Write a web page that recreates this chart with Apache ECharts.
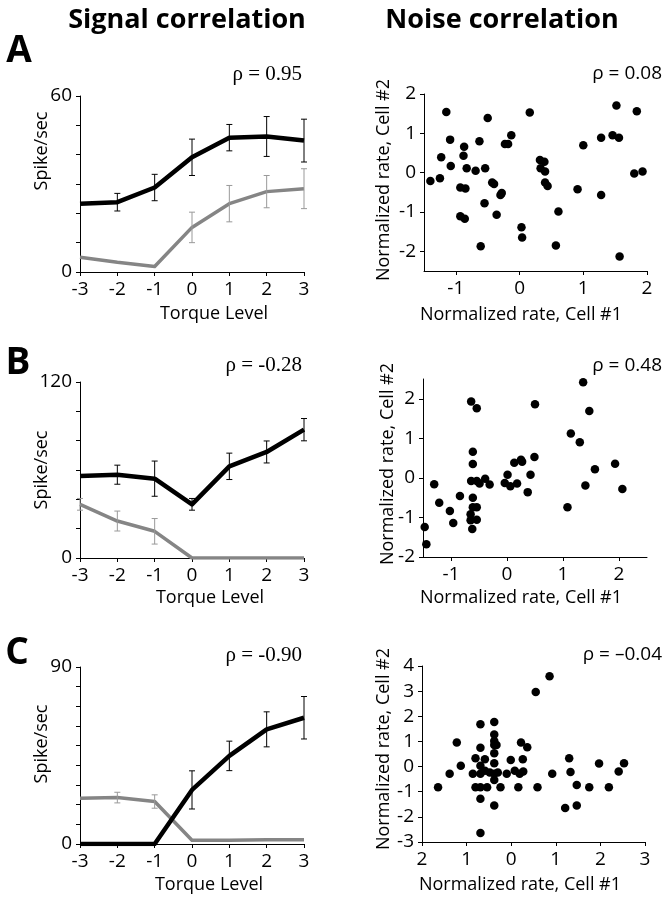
<!DOCTYPE html>
<html><head><meta charset="utf-8">
<script src="https://cdn.jsdelivr.net/npm/echarts@6/dist/echarts.min.js"></script>
<style>html,body{margin:0;padding:0;background:#fff}#c{width:668px;height:899px}</style>
</head><body><div id="c"></div>
<script>
// ---------- data ----------
const torqueLevels = [-3, -2, -1, 0, 1, 2, 3];

const aBlack    = [23.3, 23.8, 28.8, 39.1, 45.8, 46.2, 44.8];
const aBlackErr = [0, 3.0, 4.5, 6.2, 4.5, 6.8, 7.3];
const aGray     = [5.0, 3.3, 1.9, 15.2, 23.3, 27.4, 28.4];
const aGrayErr  = [0, 0, 0, 5.2, 6.2, 5.5, 6.8];

const bBlack    = [55.9, 56.8, 54.1, 36.6, 62.5, 72.3, 87.5];
const bBlackErr = [0, 6.5, 12, 4, 9, 7.5, 7.6];
const bGray     = [36.6, 25.2, 18.2, 0, 0, 0, 0];
const bGrayErr  = [4, 6.8, 8.7, 0, 0, 0, 0];

const cBlack    = [0, 0, 0, 27.5, 44.8, 58.3, 64.2];
const cBlackErr = [0, 0, 0, 9.7, 7.5, 8.9, 10.8];
const cGray     = [23.3, 23.6, 21.6, 1.9, 1.9, 2.2, 2.2];
const cGrayErr  = [0, 2.7, 3.4, 0, 0, 0, 0];

const noiseA = [[-1.40,-0.21],[-1.25,-0.14],[-1.23,0.39],[-1.15,1.54],[-1.09,0.84],[-1.08,0.17],[-0.93,-0.38],[-0.93,-1.11],[-0.87,0.66],[-0.88,0.43],[-0.85,-0.40],[-0.86,-1.17],[-0.83,0.11],[-0.69,0.05],[-0.63,0.80],[-0.61,-1.87],[-0.54,0.11],[-0.50,1.39],[-0.55,-0.78],[-0.43,-0.25],[-0.40,-0.29],[-0.36,-1.07],[-0.30,-0.57],[-0.28,-0.52],[-0.23,0.73],[-0.18,0.73],[-0.13,0.95],[0.03,-1.39],[0.04,-1.65],[0.16,1.53],[0.32,0.32],[0.39,0.28],[0.33,0.11],[0.40,0.03],[0.40,-0.25],[0.44,-0.34],[0.57,-1.85],[0.61,-0.99],[0.91,-0.42],[1.00,0.70],[1.28,0.89],[1.28,-0.57],[1.46,0.95],[1.52,1.71],[1.56,0.89],[1.57,-2.13],[1.80,-0.02],[1.84,1.56],[1.93,0.03]];

const noiseB = [[-1.47,-1.24],[-1.44,-1.68],[-1.30,-0.16],[-1.21,-0.63],[-1.02,-0.84],[-0.96,-1.14],[-0.84,-0.46],[-0.64,1.93],[-0.54,1.76],[-0.61,0.66],[-0.61,0.35],[-0.64,-0.08],[-0.61,-0.50],[-0.61,-0.74],[-0.54,-0.74],[-0.65,-0.92],[-0.65,-1.07],[-0.54,-1.06],[-0.62,-1.29],[-0.54,-0.08],[-0.49,-0.14],[-0.39,-0.02],[-0.31,-0.17],[-0.04,-0.13],[0.01,0.08],[0.06,-0.21],[0.13,0.38],[0.18,-0.14],[0.25,0.46],[0.27,0.41],[0.37,-0.36],[0.42,0.08],[0.49,0.53],[0.50,1.86],[1.08,-0.74],[1.14,1.12],[1.30,0.90],[1.36,2.42],[1.40,-0.19],[1.47,1.69],[1.57,0.22],[1.93,0.36],[2.06,-0.28]];

const noiseC = [[-1.64,-0.82],[-1.38,-0.29],[-1.22,0.96],[-1.13,0.03],[-0.86,-0.29],[-0.80,0.33],[-0.80,-0.82],[-0.69,1.68],[-0.69,0.75],[-0.69,0.03],[-0.69,-0.29],[-0.69,-0.82],[-0.69,-1.28],[-0.69,-2.64],[-0.59,0.29],[-0.59,-0.17],[-0.54,-0.82],[-0.48,-0.24],[-0.38,1.77],[-0.38,1.28],[-0.38,1.02],[-0.38,0.86],[-0.33,0.86],[-0.38,0.53],[-0.38,0.13],[-0.38,-0.29],[-0.38,-0.53],[-0.38,-1.55],[-0.30,-0.24],[-0.24,-0.82],[-0.10,-0.29],[-0.01,0.26],[0.08,-0.17],[0.16,-0.82],[0.19,-0.29],[0.22,0.96],[0.26,0.29],[0.27,-0.20],[0.36,0.77],[0.55,2.97],[0.59,-0.82],[0.86,3.59],[0.92,-0.29],[1.21,-1.65],[1.30,0.33],[1.33,-0.22],[1.47,-1.55],[1.47,-0.73],[1.75,-0.82],[1.97,0.12],[2.19,-0.82],[2.41,-0.20],[2.53,0.13]];

const noiseCXTickLabels = ['2', '1', '0', '1', '2', '3'];
const noiseCXTicks = [-2, -1, 0, 1, 2, 3];

// ---------- chart ----------
const SANS = '"Open Sans", "Noto Sans", sans-serif';
const SERIF = '"Liberation Serif", serif';
const chart = echarts.init(document.getElementById('c'), null, {renderer: 'canvas'});

const gridsPx = [
  {left: 80, top: 96, width: 224, height: 176},
  {left: 80, top: 382, width: 224, height: 176},
  {left: 80, top: 667, width: 224, height: 177},
  {left: 424, top: 94, width: 223, height: 177},
  {left: 423, top: 379, width: 224, height: 178},
  {left: 422, top: 666, width: 223, height: 176}
];

const axisLineStyle = {show: true, onZero: false, lineStyle: {color: '#000', width: 1}};
const tickStyle = {show: true, length: 4, lineStyle: {color: '#000', width: 1}};
const lblX = {color: '#000', fontFamily: SANS, fontSize: 19, margin: 8};
const lblY = {color: '#000', fontFamily: SANS, fontSize: 19, margin: 8};

function signalX(i) {
  return {gridIndex: i, type: 'value', min: -3, max: 3, interval: 1,
    axisLine: axisLineStyle, axisTick: tickStyle, splitLine: {show: false},
    axisLabel: Object.assign({}, lblX)};
}
function signalY(i, max, step) {
  return {gridIndex: i, type: 'value', min: 0, max: max, interval: step,
    axisLine: axisLineStyle, axisTick: tickStyle, splitLine: {show: false},
    axisLabel: Object.assign({}, lblY, {formatter: v => (v === 0 || v === max) ? String(v) : ''})};
}
function noiseAxis(i, dim, min, max, ticks, fmt) {
  const a = {gridIndex: i, type: 'value', min: min, max: max,
    axisLine: axisLineStyle, splitLine: {show: false},
    axisTick: Object.assign({}, tickStyle, {customValues: ticks}),
    axisLabel: Object.assign({}, dim === 'x' ? lblX : lblY, {customValues: ticks})};
  if (fmt) a.axisLabel.formatter = fmt;
  return a;
}

function lineSeries(i, vals, color, width, z) {
  return {type: 'line', xAxisIndex: i, yAxisIndex: i, z: z,
    data: torqueLevels.map((t, k) => [t, vals[k]]),
    symbol: 'none', lineStyle: {color: color, width: width, cap: 'butt', join: 'round'}, silent: true};
}
function errSeries(i, vals, errs, color, z) {
  const d = [];
  torqueLevels.forEach((t, k) => { if (errs[k] > 0) d.push([t, vals[k] - errs[k], vals[k] + errs[k]]); });
  return {type: 'custom', xAxisIndex: i, yAxisIndex: i, z: z, silent: true,
    data: d,
    renderItem: function (params, api) {
      const lo = api.coord([api.value(0), api.value(1)]);
      const hi = api.coord([api.value(0), api.value(2)]);
      const c = 3;
      const st = {stroke: color, lineWidth: 1};
      return {type: 'group', children: [
        {type: 'line', shape: {x1: lo[0], y1: lo[1], x2: hi[0], y2: hi[1]}, style: st},
        {type: 'line', shape: {x1: lo[0] - c, y1: lo[1], x2: lo[0] + c, y2: lo[1]}, style: st},
        {type: 'line', shape: {x1: hi[0] - c, y1: hi[1], x2: hi[0] + c, y2: hi[1]}, style: st}
      ]};
    }};
}
function scatterSeries(i, pts) {
  return {type: 'scatter', xAxisIndex: i, yAxisIndex: i, data: pts, symbol: 'circle', symbolSize: 8.5,
    itemStyle: {color: '#000', opacity: 1}, silent: true};
}

const GRAY = '#858585';
const GRAYERR = '#999999';

function txt(x, y, s, opt) {
  return Object.assign({type: 'text', x: x, y: y, style: Object.assign({text: s, fill: '#000', font: '17px ' + SANS, align: 'center', verticalAlign: 'middle'}, opt || {})});
}
function rtxt(x, y, s, font) {
  return {type: 'text', x: x, y: y, rotation: Math.PI / 2,
    style: {text: s, fill: '#000', font: font, align: 'center', verticalAlign: 'middle'}};
}

const option = {
  animation: false,
  backgroundColor: '#fff',
  grid: gridsPx.map(g => Object.assign({containLabel: false}, g)),
  xAxis: [
    signalX(0), signalX(1), signalX(2),
    noiseAxis(3, 'x', -1.5, 2, [-1, 0, 1, 2]),
    noiseAxis(4, 'x', -1.5, 2.5, [-1, 0, 1, 2]),
    noiseAxis(5, 'x', -2, 3, noiseCXTicks, v => noiseCXTickLabels[noiseCXTicks.indexOf(Math.round(v))])
  ],
  yAxis: [
    signalY(0, 60, 10), signalY(1, 120, 20), signalY(2, 90, 10),
    noiseAxis(3, 'y', -2.5, 2, [-2, -1, 0, 1, 2]),
    noiseAxis(4, 'y', -2, 2.5, [-2, -1, 0, 1, 2]),
    noiseAxis(5, 'y', -3, 4, [-3, -2, -1, 0, 1, 2, 3, 4])
  ],
  series: [
    lineSeries(0, aGray, GRAY, 3.5, 2), errSeries(0, aGray, aGrayErr, GRAYERR, 3),
    lineSeries(0, aBlack, '#000', 4.5, 4), errSeries(0, aBlack, aBlackErr, '#000', 5),
    lineSeries(1, bGray, GRAY, 3.5, 2), errSeries(1, bGray, bGrayErr, GRAYERR, 3),
    lineSeries(1, bBlack, '#000', 4.5, 4), errSeries(1, bBlack, bBlackErr, '#000', 5),
    lineSeries(2, cGray, GRAY, 3.5, 2), errSeries(2, cGray, cGrayErr, GRAYERR, 3),
    lineSeries(2, cBlack, '#000', 4.5, 4), errSeries(2, cBlack, cBlackErr, '#000', 5),
    scatterSeries(3, noiseA), scatterSeries(4, noiseB), scatterSeries(5, noiseC)
  ],
  graphic: [
    txt(187, 20, 'Signal correlation', {font: 'bold 27px ' + SANS}),
    txt(502, 20, 'Noise correlation', {font: 'bold 27px ' + SANS}),
    txt(19, 51, 'A', {font: 'bold 37px ' + SANS}),
    txt(18, 363, 'B', {font: 'bold 37px ' + SANS}),
    txt(17, 653, 'C', {font: 'bold 37px ' + SANS}),
    txt(302, 74, 'ρ = 0.95', {font: '21px ' + SERIF, align: 'right'}),
    txt(302, 365, 'ρ = -0.28', {font: '21px ' + SERIF, align: 'right'}),
    txt(302, 655, 'ρ = -0.90', {font: '21px ' + SERIF, align: 'right'}),
    txt(662, 74, 'ρ = 0.08', {font: '19px ' + SANS, align: 'right'}),
    txt(662, 366, 'ρ = 0.48', {font: '19px ' + SANS, align: 'right'}),
    txt(662, 655, 'ρ = –0.04', {font: '19px ' + SANS, align: 'right'}),
    rtxt(42, 151, 'Spike/sec', '18px ' + SANS),
    rtxt(42, 470, 'Spike/sec', '18px ' + SANS),
    rtxt(42, 744, 'Spike/sec', '18px ' + SANS),
    rtxt(384, 180, 'Normalized rate, Cell #2', '18px ' + SANS),
    rtxt(388, 464, 'Normalized rate, Cell #2', '18px ' + SANS),
    rtxt(384, 749, 'Normalized rate, Cell #2', '18px ' + SANS),
    txt(214, 314, 'Torque Level', {font: '18px ' + SANS}),
    txt(210, 598, 'Torque Level', {font: '18px ' + SANS}),
    txt(209, 885, 'Torque Level', {font: '18px ' + SANS}),
    txt(521, 315, 'Normalized rate, Cell #1', {font: '18px ' + SANS}),
    txt(521, 598, 'Normalized rate, Cell #1', {font: '18px ' + SANS}),
    txt(520, 885, 'Normalized rate, Cell #1', {font: '18px ' + SANS})
  ]
};
chart.setOption(option);
</script>
</body></html>
